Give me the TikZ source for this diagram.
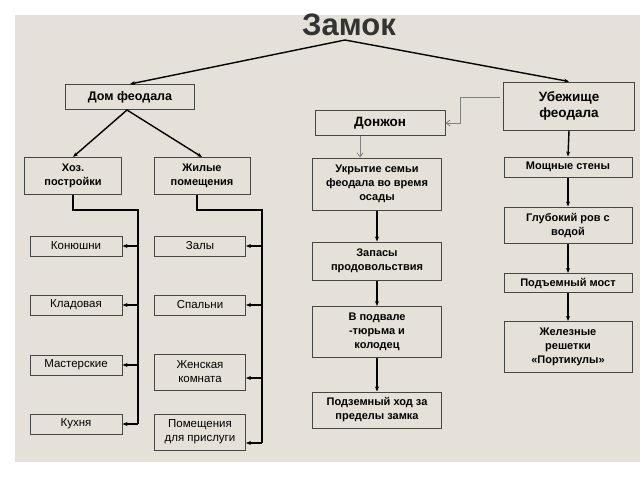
\documentclass[tikz,border=0pt]{standalone}
\usepackage{fontspec}
\setmainfont{Liberation Sans}
\usetikzlibrary{arrows.meta}
\definecolor{paper}{RGB}{229,225,216}
\definecolor{edge}{RGB}{70,70,70}
\begin{document}
\begin{tikzpicture}[x=1pt,y=-1pt,
		box/.style={rectangle,draw=edge,line width=1pt,fill=paper,align=center,
			inner sep=1pt,font=\fontsize{11.5}{14}\selectfont},
		bbox/.style={box,font=\fontsize{11}{14}\selectfont\bfseries},
		arr/.style={-{Stealth[length=5pt,width=4pt]},line width=1.4pt,black},
		thin/.style={-{Straight Barb[length=4pt,width=6pt]},line width=0.8pt,gray}
		]
	\fill[white] (0,0) rectangle (640,480);
	\fill[paper] (15,15) rectangle (640,462);
	\node [font=\fontsize{31}{33}\selectfont\bfseries,text=black!80] (title) at (349,25) {Замок};
	\coordinate (top) at (345,40);
	% left branch
	\node [bbox,minimum width=129pt,minimum height=25pt,font=\fontsize{12.5}{15}\selectfont\bfseries] (dom) at (130,97) {Дом феодала};
	\node [bbox,minimum width=97pt,minimum height=37pt] (hoz) at (73,176) {Хоз.\\постройки};
	\node [bbox,minimum width=96pt,minimum height=37pt] (zhil) at (202,176) {Жилые\\помещения};
	\node [box,minimum width=92pt,minimum height=20pt] (kon) at (76,246) {Конюшни};
	\node [box,minimum width=92pt,minimum height=20pt] (klad) at (76,305) {Кладовая};
	\node [box,minimum width=92pt,minimum height=20pt] (mast) at (76,365) {Мастерские};
	\node [box,minimum width=92pt,minimum height=20pt] (kuh) at (76,424) {Кухня};
	\node [box,minimum width=91pt,minimum height=20pt] (zal) at (200,246) {Залы};
	\node [box,minimum width=91pt,minimum height=20pt] (spal) at (200,305) {Спальни};
	\node [box,minimum width=91pt,minimum height=36pt] (zhen) at (200,372) {Женская\\комната};
	\node [box,minimum width=91pt,minimum height=36pt] (prisl) at (200,432) {Помещения\\для прислуги};
	% middle branch
	\node [bbox,minimum width=130pt,minimum height=25pt,font=\fontsize{13.5}{15}\selectfont\bfseries] (don) at (380,123) {Донжон};
	\node [bbox,minimum width=129pt,minimum height=52pt] (ukr) at (377,184) {Укрытие семьи\\феодала во время\\осады};
	\node [bbox,minimum width=129pt,minimum height=38pt] (zap) at (377,261) {Запасы\\продовольствия};
	\node [bbox,minimum width=129pt,minimum height=51pt] (podv) at (377,332) {В подвале\\-тюрьма и\\колодец};
	\node [bbox,minimum width=129pt,minimum height=36pt] (hod) at (377,410) {Подземный ход за\\пределы замка};
	% right branch
	\node [bbox,minimum width=131pt,minimum height=48pt,font=\fontsize{13.5}{16}\selectfont\bfseries] (ub) at (569,106) {Убежище\\феодала};
	\node [bbox,minimum width=128pt,minimum height=20pt] (steny) at (568,167) {Мощные стены};
	\node [bbox,minimum width=128pt,minimum height=36pt] (rov) at (568,225) {Глубокий ров с\\водой};
	\node [bbox,minimum width=128pt,minimum height=19pt] (most) at (568,283) {Подъемный мост};
	\node [bbox,minimum width=128pt,minimum height=51pt] (resh) at (568,347) {Железные\\решетки\\«Портикулы»};
	% connectors
	\draw [arr] (top) -- (dom.north);
	\draw [arr] (top) -- (ub.north);
	\draw [arr] ([xshift=-3pt]dom.south) -- (hoz.north);
	\draw [arr] ([xshift=-3pt]dom.south) -- (zhil.north);
	\draw [line width=1.4pt] (hoz.south) |- (138,210) -- (138,424);
	\foreach \n in {kon,klad,mast,kuh}
		\draw [arr] (138,0 |- \n.east) -- (\n.east);
	\draw [line width=1.4pt] ([xshift=-5pt]zhil.south) |- (262,210) -- (262,443);
	\foreach \n/\y in {zal/246,spal/305,zhen/378,prisl/443}
		\draw [arr] (262,\y) -- (\n.east |- 0,\y);
	\coordinate (bend) at (500,97);
	\draw [thin] (bend) -| (460,123) -- (don.east);
	\draw [thin] ([xshift=-20pt]don.south) -- ([xshift=-17pt]ukr.north);
	\draw [arr] (ukr.south) -- (zap.north);
	\draw [arr] (zap.south) -- (podv.north);
	\draw [arr] (podv.south) -- (hod.north);
	\draw [arr] (ub.south) -- (steny.north);
	\draw [arr] (steny.south) -- (rov.north);
	\draw [arr] (rov.south) -- (most.north);
	\draw [arr] (most.south) -- (resh.north);
\end{tikzpicture}
\end{document}
